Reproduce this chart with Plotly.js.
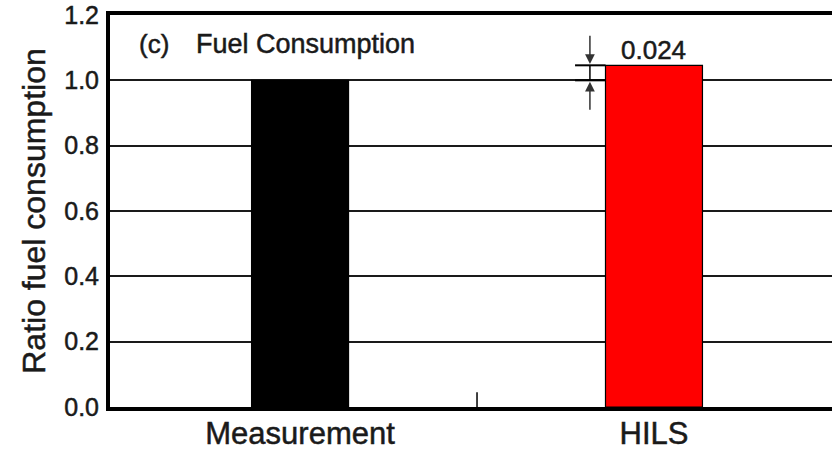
<!DOCTYPE html>
<html>
<head>
<meta charset="utf-8">
<script src="https://cdn.plot.ly/plotly-3.0.1.min.js"></script>
<style>
html,body{margin:0;padding:0;background:#fff;}
#chart{width:832px;height:451px;}
#chart text{stroke:#1a1a1a;stroke-width:0.5px;}
</style>
</head>
<body>
<div id="chart"></div>
<script>
const categories = ["Measurement", "HILS"];
const ratioValues = [1.0, 1.046];
const barColors = ["#000000", "#ff0000"];
const yTickValues = [0.0, 0.2, 0.4, 0.6, 0.8, 1.0, 1.2];
const yTickLabels = ["0.0", "0.2", "0.4", "0.6", "0.8", "1.0", "1.2"];
const diffLabel = "0.024";
const panelLabel = "(c)";
const panelTitle = "Fuel Consumption";
const yTitle = "Ratio fuel consumption";

const F = "Liberation Sans, Arial, sans-serif";
const TXT = "#1a1a1a";

const trace = {
  type: "bar",
  x: [0, 1],
  y: ratioValues,
  width: 0.274,
  marker: {color: barColors, line: {color: "#000", width: 1.2}},
  hoverinfo: "skip"
};

const baseVal = ratioValues[0], hilsVal = ratioValues[1];
const xe = 0.819;

const layout = {
  width: 832, height: 451,
  margin: {l: 110, r: 0, t: 15, b: 44},
  paper_bgcolor: "#fff", plot_bgcolor: "#fff",
  showlegend: false,
  bargap: 0,
  xaxis: {
    range: [-0.537, 1.503],
    tickvals: [0, 1], ticktext: categories,
    ticks: "", showgrid: false, zeroline: false,
    showline: true, linecolor: "#000", linewidth: 4, mirror: true,
    tickfont: {family: F, size: 31, color: TXT},
    ticklabelstandoff: -4
  },
  yaxis: {
    range: [0, 1.2],
    tickvals: yTickValues, ticktext: yTickLabels,
    ticks: "", zeroline: false,
    showgrid: true, gridcolor: "#1a1a1a", gridwidth: 2,
    showline: true, linecolor: "#000", linewidth: 4,
    tickfont: {family: F, size: 25, color: TXT},
    ticklabelstandoff: 2,
    title: {text: yTitle, font: {family: F, size: 32, color: TXT}, standoff: 10}
  },
  shapes: [
    {type: "line", xref: "x", yref: "y", x0: 0.5, x1: 0.5, y0: 0, y1: 0.045, line: {color: "#000", width: 1.5}},
    {type: "line", xref: "x", yref: "y", x0: 0.777, x1: 0.863, y0: baseVal, y1: baseVal, line: {color: "#000", width: 2}},
    {type: "line", xref: "x", yref: "y", x0: 0.777, x1: 0.863, y0: hilsVal, y1: hilsVal, line: {color: "#000", width: 2}},
    {type: "line", xref: "x", yref: "y", x0: xe, x1: xe, y0: baseVal, y1: hilsVal, line: {color: "#000", width: 1.5}}
  ],
  annotations: [
    {xref: "x", yref: "y", axref: "x", ayref: "y", x: xe, y: hilsVal + 0.004, ax: xe, ay: hilsVal + 0.095,
     text: "", showarrow: true, arrowhead: 2, arrowsize: 1.3, arrowwidth: 1.5, arrowcolor: "#333"},
    {xref: "x", yref: "y", axref: "x", ayref: "y", x: xe, y: baseVal - 0.004, ax: xe, ay: baseVal - 0.095,
     text: "", showarrow: true, arrowhead: 2, arrowsize: 1.3, arrowwidth: 1.5, arrowcolor: "#333"},
    {xref: "x", yref: "y", x: 1, y: hilsVal, yanchor: "bottom", yshift: -2, text: diffLabel, showarrow: false,
     font: {family: F, size: 26, color: TXT}},
    {xref: "paper", yref: "paper", x: 0.0374, y: 0.926, xanchor: "left", yanchor: "middle", text: panelLabel,
     showarrow: false, font: {family: F, size: 26, color: TXT}},
    {xref: "paper", yref: "paper", x: 0.117, y: 0.926, xanchor: "left", yanchor: "middle", text: panelTitle,
     showarrow: false, font: {family: F, size: 27, color: TXT}}
  ]
};

Plotly.newPlot("chart", [trace], layout, {displayModeBar: false, staticPlot: true});
</script>
</body>
</html>
